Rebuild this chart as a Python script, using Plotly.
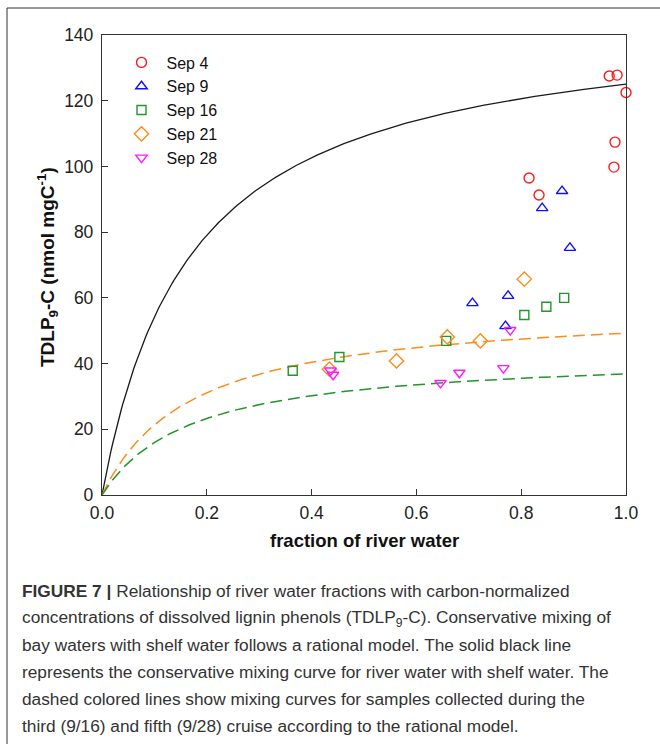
import numpy as np
import plotly.graph_objects as go

# ---- data ----
sep4_x = [0.815, 0.834, 0.968, 0.983, 1.000, 0.979, 0.977]
sep4_y = [96.5, 91.3, 127.5, 127.8, 122.5, 107.4, 99.8]

sep9_x = [0.878, 0.840, 0.893, 0.775, 0.707, 0.770]
sep9_y = [92.5, 87.3, 75.2, 60.6, 58.4, 51.4]

sep16_x = [0.882, 0.848, 0.806, 0.657, 0.453, 0.364]
sep16_y = [60.0, 57.3, 54.8, 46.9, 42.0, 37.8]

sep21_x = [0.806, 0.722, 0.659, 0.562, 0.434]
sep21_y = [65.7, 46.9, 48.1, 40.8, 38.3]

sep28_x = [0.779, 0.766, 0.682, 0.646, 0.436, 0.441]
sep28_y = [50.2, 38.6, 37.2, 34.1, 37.9, 36.6]

# rational mixing model parameters y = a*x/(K+x)
river_a, river_K = 146.3, 0.170
sep16_a, sep16_K = 43.1, 0.170
sep28_a, sep28_K = 57.6, 0.170

x_ticks = [0.0, 0.2, 0.4, 0.6, 0.8, 1.0]
x_ticklabels = ["0.0", "0.2", "0.4", "0.6", "0.8", "1.0"]
y_ticks = [0, 20, 40, 60, 80, 100, 120, 140]

caption_lines = [
    "<b>FIGURE 7 |</b> Relationship of river water fractions with carbon-normalized",
    "concentrations of dissolved lignin phenols (TDLP<sub>9</sub>-C). Conservative mixing of",
    "bay waters with shelf water follows a rational model. The solid black line",
    "represents the conservative mixing curve for river water with shelf water. The",
    "dashed colored lines show mixing curves for samples collected during the",
    "third (9/16) and fifth (9/28) cruise according to the rational model.",
]

# ---- layout geometry (pixels) ----
W, H = 660, 744
L, R, T, B = 102, 626, 35, 495
pw, ph = R - L, B - T
FONT = "Liberation Sans, Arial, sans-serif"


def px_x(px):
    return (px - L) / pw


def px_y(py):
    return (B - py) / ph


xc = np.linspace(0, 1, 300)


def model(a, K):
    return a * xc / (K + xc)


fig = go.Figure()
fig.add_trace(go.Scatter(x=xc, y=model(river_a, river_K), mode="lines",
                         line=dict(color="#1a1a1a", width=1.3), showlegend=False,
                         hoverinfo="skip"))
fig.add_trace(go.Scatter(x=xc, y=model(sep28_a, sep28_K), mode="lines",
                         line=dict(color="#FF8C1A", width=1.5, dash="12px,6px"),
                         showlegend=False, hoverinfo="skip"))
fig.add_trace(go.Scatter(x=xc, y=model(sep16_a, sep16_K), mode="lines",
                         line=dict(color="#22962a", width=1.5, dash="12px,6px"),
                         showlegend=False, hoverinfo="skip"))

series = [
    ("Sep 4", sep4_x, sep4_y, "circle-open", "#FF1A1A", 10),
    ("Sep 9", sep9_x, sep9_y, "triangle-up-open", "#1010FF", 10),
    ("Sep 16", sep16_x, sep16_y, "square-open", "#22962a", 9),
    ("Sep 21", sep21_x, sep21_y, "diamond-open", "#FF8C1A", 11),
    ("Sep 28", sep28_x, sep28_y, "triangle-down-open", "#FF1AFF", 10),
]
for i, (name, xs, ys, sym, col, sz) in enumerate(series):
    fig.add_trace(go.Scatter(
        x=xs, y=ys, mode="markers", name=name, legendgroup=f"g{i}",
        marker=dict(symbol=sym, size=sz, color=col, line=dict(color=col, width=1.4)),
        cliponaxis=False,
    ))

axis_common = dict(showline=True, mirror=True, linecolor="#333333", linewidth=1.3,
                   ticks="inside", ticklen=6, tickcolor="#333333", showgrid=False,
                   zeroline=False,
                   tickfont=dict(family=FONT, size=17.5, color="#222222"))

fig.update_xaxes(range=[0, 1], tickvals=x_ticks, ticktext=x_ticklabels,
                 ticklabelstandoff=2, **axis_common)
fig.update_yaxes(range=[0, 140], tickvals=y_ticks, ticklabelstandoff=4, **axis_common)

annotations = [
    dict(text="<b>fraction of river water</b>", x=0.5, y=px_y(540), xref="paper",
         yref="paper", showarrow=False, xanchor="center", yanchor="middle",
         font=dict(family=FONT, size=18.5, color="#111111")),
    dict(text="<b>TDLP<sub>9</sub>-C (nmol mgC<sup>-1</sup>)</b>", x=px_x(47),
         y=px_y(267), xref="paper", yref="paper", showarrow=False, textangle=-90,
         xanchor="center", yanchor="middle",
         font=dict(family=FONT, size=19, color="#111111")),
]
for k, line in enumerate(caption_lines):
    annotations.append(dict(text=line, x=px_x(20), y=px_y(591 + 27 * k), xref="paper",
                            yref="paper", showarrow=False, xanchor="left",
                            yanchor="middle",
                            font=dict(family=FONT, size=17.3, color="#333333")))

shapes = [
    dict(type="line", xref="paper", yref="paper", x0=px_x(7), x1=px_x(W + 5),
         y0=px_y(8), y1=px_y(8), line=dict(color="#333333", width=1)),
    dict(type="line", xref="paper", yref="paper", x0=px_x(7), x1=px_x(7),
         y0=px_y(8), y1=px_y(H + 5), line=dict(color="#333333", width=1)),
]

fig.update_layout(
    width=W, height=H,
    margin=dict(l=L, r=W - R, t=T, b=H - B, autoexpand=False),
    paper_bgcolor="white", plot_bgcolor="white",
    font=dict(family=FONT, color="#222222"),
    legend=dict(x=px_x(116.5), y=px_y(45.5), xanchor="left", yanchor="top",
                bgcolor="rgba(0,0,0,0)", font=dict(family=FONT, size=16, color="#111111"),
                traceorder="grouped", tracegroupgap=0, itemwidth=40),
    annotations=annotations,
    shapes=shapes,
)

fig.write_html("out.html", config={"displayModeBar": False},
               post_script="document.body.style.margin='0';document.body.style.overflow='hidden';")
